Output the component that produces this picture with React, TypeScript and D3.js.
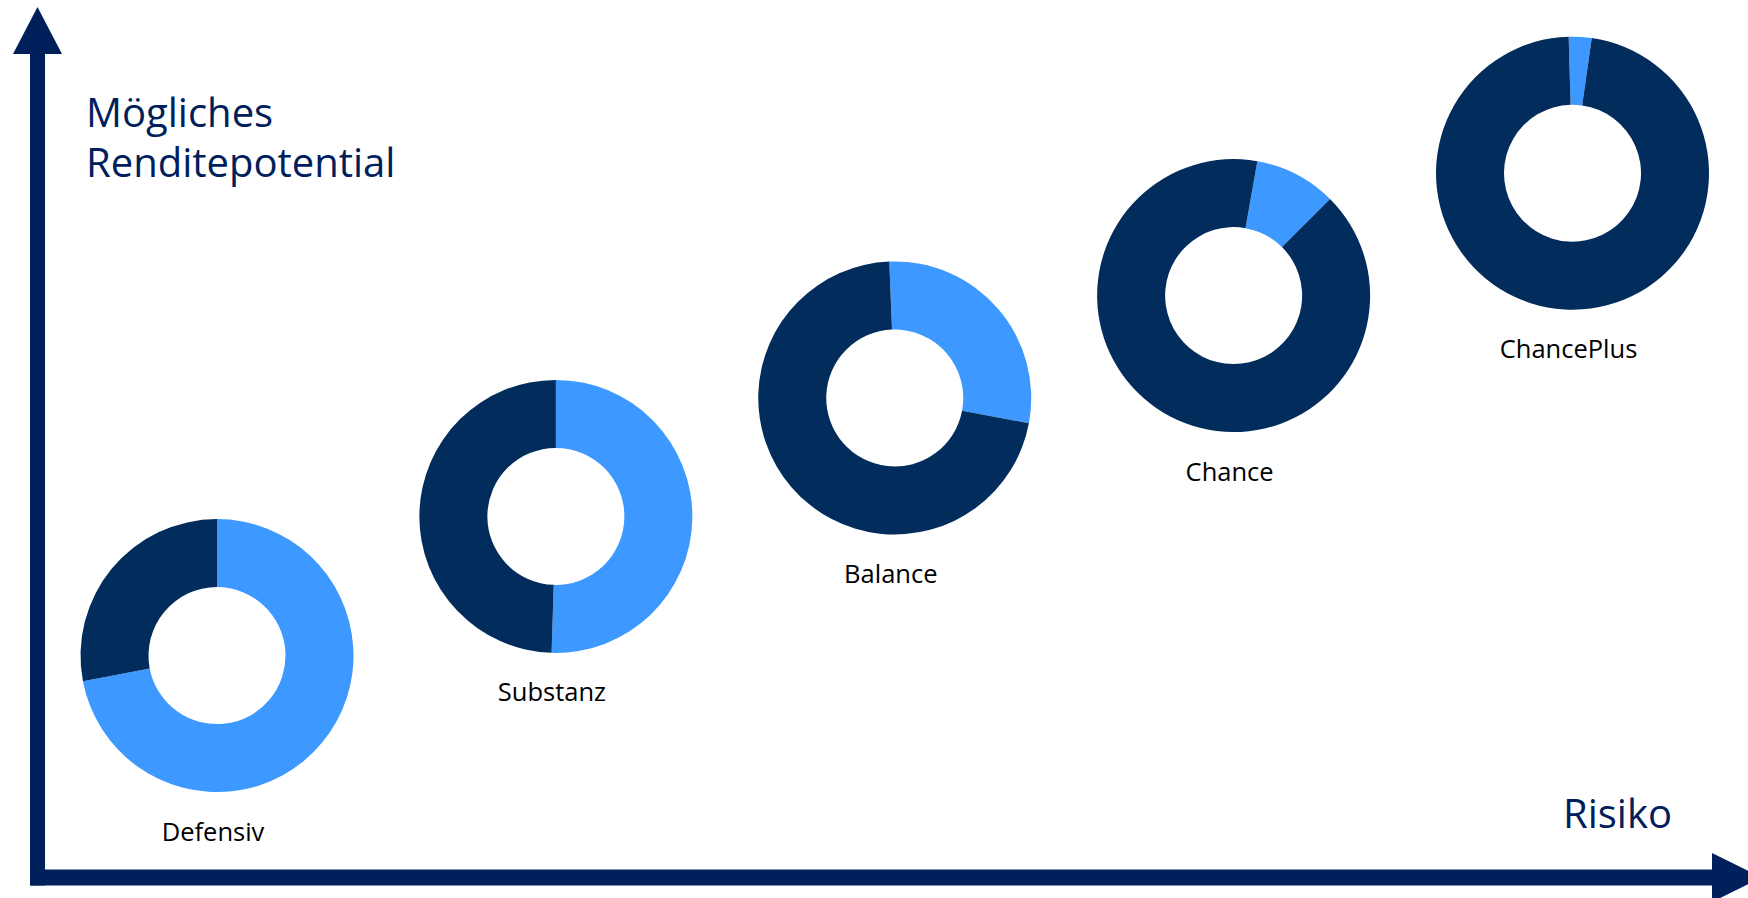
import React from 'react';
import * as d3 from 'd3';

// Anlageprofile, von wenig zu viel Risiko
const profiles = ['Defensiv', 'Substanz', 'Balance', 'Chance', 'ChancePlus'];
const lightShare = [72, 50.5, 28.6, 9.7, 2.7];
const darkShare = [28, 49.5, 71.4, 90.3, 97.3];
const riskLevel = [1, 2, 3, 4, 5];
const returnPotential = [26.8, 44.2, 59, 71.8, 87.1];
const firstSliceAngle = [0, 0, -2.3, 10, -1.6]; // degrees

const W = 1748;
const H = 898;
const NAVY = '#00205B';
const DARK = '#022C5B';
const LIGHT = '#3D99FF';
const FONT = '"Open Sans", "Noto Sans", sans-serif';

export default function App() {
  const x = d3.scaleLinear().domain([1, 5]).range([217, 1572.5]);
  const y = d3.scaleLinear().domain([0, 100]).range([870, 70]);

  const arc = d3.arc<d3.PieArcDatum<number>>()
    .innerRadius(68.5)
    .outerRadius(136.5);

  const donuts = profiles.map((name, i) => {
    const rot = (firstSliceAngle[i] * Math.PI) / 180;
    const pie = d3.pie<number>()
      .sort(null)
      .value(d => d)
      .startAngle(rot)
      .endAngle(rot + 2 * Math.PI);
    return { name, cx: x(riskLevel[i]), cy: y(returnPotential[i]), arcs: pie([lightShare[i], darkShare[i]]) };
  });

  // arrow geometry
  const shaftL = 30, shaftW = 15;
  const axisY = 869.5, axisH = 16;
  const headW = 49, headL = 47;

  return (
    <svg width={W} height={H} style={{ position: 'absolute', left: 0, top: 0, background: '#fff' }}>
      {/* y axis */}
      <rect x={shaftL} y={50} width={shaftW} height={axisY + axisH - 50} fill={NAVY} />
      <path
        d={`M${shaftL + shaftW / 2 - headW / 2},54 L${shaftL + shaftW / 2},${54 - headL} L${shaftL + shaftW / 2 + headW / 2},54 Z`}
        fill={NAVY}
      />
      {/* x axis */}
      <rect x={shaftL} y={axisY} width={1716 - shaftL} height={axisH} fill={NAVY} />
      <path
        d={`M1712,${axisY + axisH / 2 - headW / 2} L${1712 + headL + 3},${axisY + axisH / 2} L1712,${axisY + axisH / 2 + headW / 2} Z`}
        fill={NAVY}
      />

      <text x={86} y={127} fontFamily={FONT} fontSize={40} fill={NAVY}>Mögliches</text>
      <text x={86} y={177} fontFamily={FONT} fontSize={40} fill={NAVY}>Renditepotential</text>
      <text x={1563} y={828} fontFamily={FONT} fontSize={40} fill={NAVY}>Risiko</text>

      {donuts.map(d => (
        <g key={d.name} transform={`translate(${d.cx},${d.cy})`}>
          {d.arcs.map((a, j) => (
            <path key={j} d={arc(a) || ''} fill={j === 0 ? LIGHT : DARK} />
          ))}
          <text x={-4} y={185} textAnchor="middle" fontFamily={FONT} fontSize={25.5} fill="#000">
            {d.name}
          </text>
        </g>
      ))}
    </svg>
  );
}
